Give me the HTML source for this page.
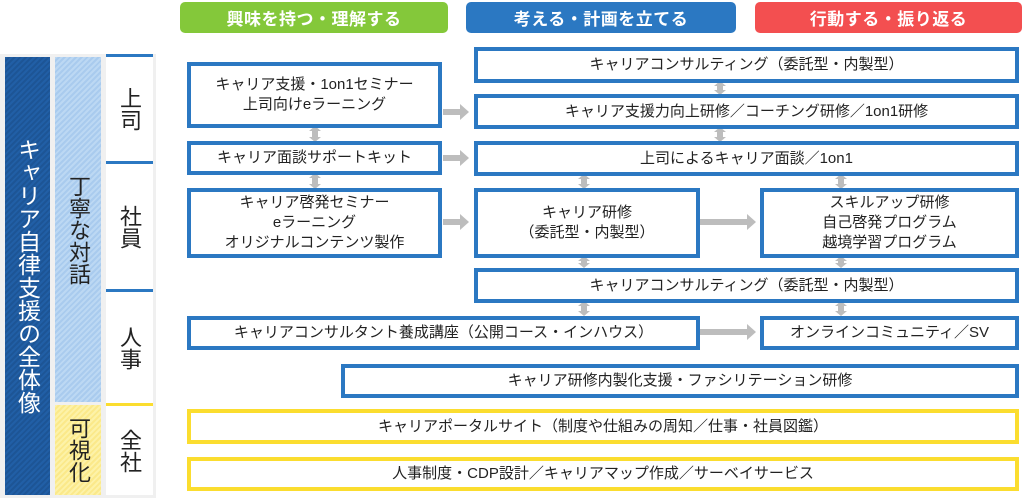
<!DOCTYPE html>
<html><head><meta charset="utf-8"><style>
*{margin:0;padding:0;box-sizing:border-box}
body{width:1024px;height:500px;background:#fff;position:relative;overflow:hidden;font-family:"Liberation Sans","Noto Sans CJK JP",sans-serif;color:#222}
.a{position:absolute}
.hd{position:absolute;top:2px;height:31px;border-radius:5px;color:#fff;font-size:17px;font-weight:bold;display:flex;align-items:center;justify-content:center;letter-spacing:0.5px}
.b{position:absolute;border:4px solid #2b78c2;background:#fff;display:flex;align-items:center;justify-content:center;text-align:center;font-size:15px;line-height:20px}
.y{border-color:#fbdd2f}
.v{writing-mode:vertical-rl;display:flex;align-items:center;justify-content:center}
.lab{position:absolute;left:106px;width:46px;font-size:22px;display:flex;align-items:center;justify-content:center;writing-mode:vertical-rl}
.sep{position:absolute;left:106px;width:47px;height:3px}
</style></head><body>
<div class="hd" style="left:180px;width:268px;background:#84c83a">興味を持つ・理解する</div>
<div class="hd" style="left:466px;width:270px;background:#2b78c2">考える・計画を立てる</div>
<div class="hd" style="left:755px;width:267px;background:#f34f50">行動する・振り返る</div>

<div class="a" style="left:0;top:54px;width:156px;height:444px;background:#f0f0f0"></div>
<div class="a v" style="left:5px;top:57px;width:45px;height:438px;background:repeating-linear-gradient(135deg,#215fa6 0 2px,#1d5596 2px 4px);color:#fff;font-size:23px;letter-spacing:0px">キャリア自律支援の全体像</div>
<div class="a v" style="left:55px;top:57px;width:46px;height:345px;background:repeating-linear-gradient(135deg,#bcd8f3 0 2px,#a9cbee 2px 4px);font-size:22px">丁寧な対話</div>
<div class="a v" style="left:55px;top:405px;width:46px;height:90px;background:repeating-linear-gradient(135deg,#fdf2a8 0 2px,#fbe98a 2px 4px);font-size:22px">可視化</div>
<div class="a" style="left:106px;top:55px;width:47px;height:440px;background:#fff"></div>
<div class="sep" style="top:54px;background:#2b78c2"></div>
<div class="sep" style="top:161px;background:#2b78c2"></div>
<div class="sep" style="top:289px;background:#2b78c2"></div>
<div class="sep" style="top:403px;background:#fbdd2f"></div>
<div class="lab" style="top:57px;height:104px">上司</div>
<div class="lab" style="top:164px;height:125px">社員</div>
<div class="lab" style="top:292px;height:111px">人事</div>
<div class="lab" style="top:406px;height:89px">全社</div>

<svg class="a" style="left:0;top:0" width="1024" height="500">
<g fill="#bdbdbd">
<path d="M443 109h17v-5l9 8-9 8v-5h-17z"/>
<path d="M443 155h17v-5l9 8-9 8v-5h-17z"/>
<path d="M443 219h17v-5l9 8-9 8v-5h-17z"/>
<path d="M700 219h47v-5l9 8-9 8v-5h-47z"/>
<path d="M700 329h47v-5l9 8-9 8v-5h-47z"/>
</g>
<g fill="#bdbdbd">
<path d="M315 126l6 5h-3v6h3l-6 5-6-5h3v-6h-3z"/>
<path d="M315 173l6 5h-3v6h3l-6 5-6-5h3v-6h-3z"/>
<path d="M720 81l6 5h-3v4h3l-6 5-6-5h3v-4h-3z"/>
<path d="M720 127l6 5h-3v5h3l-6 5-6-5h3v-5h-3z"/>
<path d="M584 174l6 5h-3v5h3l-6 5-6-5h3v-5h-3z"/>
<path d="M841 174l6 5h-3v5h3l-6 5-6-5h3v-5h-3z"/>
<path d="M584 256l6 5h-3v2h3l-6 5-6-5h3v-2h-3z"/>
<path d="M841 256l6 5h-3v2h3l-6 5-6-5h3v-2h-3z"/>
<path d="M584 301l6 5h-3v5h3l-6 5-6-5h3v-5h-3z"/>
<path d="M841 301l6 5h-3v5h3l-6 5-6-5h3v-5h-3z"/>
</g>
</svg>

<div class="b" style="left:187px;top:62px;width:255px;height:66px">キャリア支援・1on1セミナー<br>上司向けeラーニング</div>
<div class="b" style="left:187px;top:141px;width:255px;height:34px">キャリア面談サポートキット</div>
<div class="b" style="left:187px;top:188px;width:255px;height:70px">キャリア啓発セミナー<br>eラーニング<br>オリジナルコンテンツ製作</div>
<div class="b" style="left:474px;top:47px;width:545px;height:36px">キャリアコンサルティング（委託型・内製型）</div>
<div class="b" style="left:474px;top:94px;width:545px;height:35px">キャリア支援力向上研修／コーチング研修／1on1研修</div>
<div class="b" style="left:474px;top:141px;width:545px;height:35px">上司によるキャリア面談／1on1</div>
<div class="b" style="left:474px;top:188px;width:226px;height:70px">キャリア研修<br>（委託型・内製型）</div>
<div class="b" style="left:760px;top:188px;width:259px;height:70px">スキルアップ研修<br>自己啓発プログラム<br>越境学習プログラム</div>
<div class="b" style="left:474px;top:268px;width:545px;height:35px">キャリアコンサルティング（委託型・内製型）</div>
<div class="b" style="left:187px;top:316px;width:513px;height:34px">キャリアコンサルタント養成講座（公開コース・インハウス）</div>
<div class="b" style="left:760px;top:316px;width:259px;height:34px">オンラインコミュニティ／SV</div>
<div class="b" style="left:341px;top:364px;width:678px;height:34px">キャリア研修内製化支援・ファシリテーション研修</div>
<div class="b y" style="left:187px;top:409px;width:832px;height:35px">キャリアポータルサイト（制度や仕組みの周知／仕事・社員図鑑）</div>
<div class="b y" style="left:187px;top:457px;width:832px;height:34px">人事制度・CDP設計／キャリアマップ作成／サーベイサービス</div>
</body></html>
